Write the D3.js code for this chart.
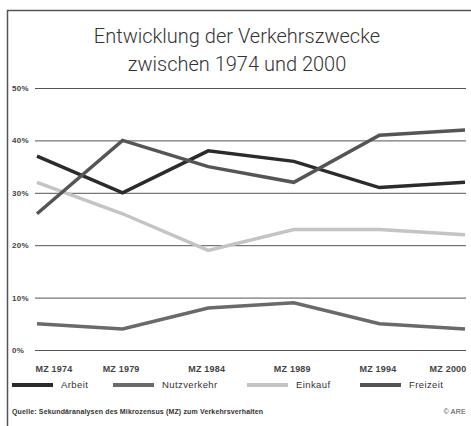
<!DOCTYPE html>
<html><head><meta charset="utf-8">
<script src="https://cdn.jsdelivr.net/npm/d3@7"></script>
<style>body{margin:0;background:#fff}svg{display:block}</style>
</head><body>
<script>
const categories = ["MZ 1974","MZ 1979","MZ 1984","MZ 1989","MZ 1994","MZ 2000"];
const arbeit = [37,30,38,36,31,32];
const freizeit = [26,40,35,32,41,42];
const einkauf = [32,26,19,23,23,22];
const nutzverkehr = [5,4,8,9,5,4];
const yTicks = [0,10,20,30,40,50];
const seriesNames = ["Arbeit","Nutzverkehr","Einkauf","Freizeit"];
const titleLines = ["Entwicklung der Verkehrszwecke","zwischen 1974 und 2000"];

const W=471,H=426;
const svg=d3.select("body").append("svg").attr("width",W).attr("height",H);
const colors={Arbeit:"#2b2b2b",Nutzverkehr:"#6a6a6a",Einkauf:"#c4c4c4",Freizeit:"#555555"};
const data={Arbeit:arbeit,Nutzverkehr:nutzverkehr,Einkauf:einkauf,Freizeit:freizeit};

svg.append("path").attr("d","M7.5,426V10.5H471").attr("fill","none").attr("stroke","#555").attr("stroke-width",1.5);

const tf="'Roboto','Liberation Sans',sans-serif";
const sf="'Liberation Sans',Arial,sans-serif";
svg.selectAll("text.title").data(titleLines).join("text")
 .attr("x",237).attr("y",(d,i)=>43+i*28).attr("text-anchor","middle")
 .attr("font-family",tf).attr("font-size",20).attr("font-weight",300).attr("fill","#333").text(d=>d);

const x=d3.scalePoint().domain(categories).range([37,465]);
const y=d3.scaleLinear().domain([0,50]).range([350,88]);

const yAxis=d3.axisLeft(y).tickValues(yTicks).tickSize(-(466-35)).tickFormat(d=>d+"%");
const gy=svg.append("g").attr("transform","translate(35,0)").call(yAxis);
gy.select(".domain").remove();
gy.selectAll(".tick line").attr("stroke","#555").attr("stroke-width",1);
gy.selectAll(".tick text").attr("x",-23).attr("text-anchor","start").attr("dy","0.32em")
 .attr("font-family",sf).attr("font-size",8).attr("font-weight","bold").attr("letter-spacing",0.3).attr("fill","#444");

const xAxis=d3.axisBottom(x).tickSize(0);
const gx=svg.append("g").attr("transform","translate(0,363)").call(xAxis);
gx.select(".domain").remove();
gx.selectAll(".tick text").attr("font-family",sf).attr("font-size",9).attr("font-weight","bold").attr("letter-spacing",0.2).attr("fill","#444")
 .attr("text-anchor",(d,i)=>i===0?"start":(i===categories.length-1?"end":"middle"))
 .attr("dx",(d,i)=>i===0?-2:(i===categories.length-1?1:-2));

const line=d3.line().x((d,i)=>x(categories[i])).y(d=>y(d));
["Einkauf","Nutzverkehr","Arbeit","Freizeit"].forEach(n=>{
 svg.append("path").datum(data[n]).attr("d",line).attr("fill","none")
  .attr("stroke",colors[n]).attr("stroke-width",3.5).attr("stroke-linejoin","miter");
});

const legX=[12,113,247,360];
const lg=svg.selectAll("g.leg").data(seriesNames).join("g").attr("transform",(d,i)=>`translate(${legX[i]},385)`);
lg.append("line").attr("x1",0).attr("x2",41).attr("stroke",d=>colors[d]).attr("stroke-width",4);
lg.append("text").attr("x",49).attr("dy","0.35em").attr("font-family",sf)
 .attr("font-size",9.5).attr("letter-spacing",0.4).attr("fill","#333").text(d=>d);

svg.append("text").attr("x",12).attr("y",414).attr("font-family",sf)
 .attr("font-size",7).attr("font-weight","bold").attr("letter-spacing",0.15).attr("fill","#333").text("Quelle: Sekundäranalysen des Mikrozensus (MZ) zum Verkehrsverhalten");
svg.append("text").attr("x",466).attr("y",414).attr("text-anchor","end").attr("font-family",sf)
 .attr("font-size",7).attr("letter-spacing",0.3).attr("fill","#444").text("© ARE");
</script>
</body></html>
